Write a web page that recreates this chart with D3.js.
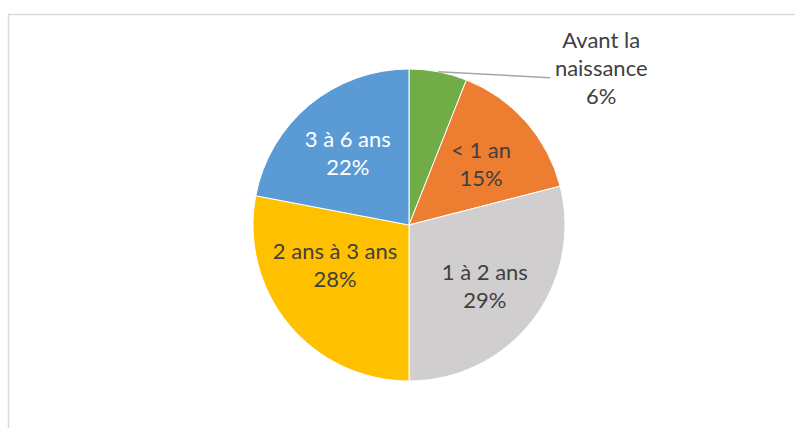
<!DOCTYPE html>
<html>
<head>
<meta charset="utf-8">
<script src="https://cdn.jsdelivr.net/npm/d3@7"></script>
<style>
  body { margin: 0; background: #fff; }
  text { font-family: Lato, "Open Sans", sans-serif; }
</style>
</head>
<body>
<div id="chart"></div>
<script>
// Data
const categories = ["Avant la naissance", "< 1 an", "1 à 2 ans", "2 ans à 3 ans", "3 à 6 ans"];
const shares = [6, 15, 29, 28, 22];
const colors = ["#70ad47", "#ed7d31", "#d0cece", "#ffc000", "#5b9bd5"];
const labelColors = ["#404040", "#404040", "#404040", "#404040", "#ffffff"];

let width = 795;
let height = 428;
let cx = 409, cy = 225, radius = 156;
const fontSize = 22;
const lineGap = 28;
const labelRadius = 96;

let svg = d3
    .select("#chart")
    .append("svg")
    .attr("width", width)
    .attr("height", height);

// Chart area border (only top and left visible)
svg.append("rect")
    .attr("x", 8.5)
    .attr("y", 14.5)
    .attr("width", 800)
    .attr("height", 500)
    .attr("fill", "none")
    .attr("stroke", "#d9d9d9")
    .attr("stroke-width", 1.5);

const data = categories.map((c, i) => ({ name: c, value: shares[i], i: i }));

let pie = d3.pie().sort(null).value((d) => d.value);
let arc = d3.arc().innerRadius(0).outerRadius(radius);

let g = svg.append("g").attr("transform", "translate(" + cx + "," + cy + ")");
let arcs = pie(data);

g.selectAll("path")
    .data(arcs)
    .enter()
    .append("path")
    .attr("d", arc)
    .attr("fill", (d) => colors[d.data.i])
    .attr("stroke", "#fff")
    .attr("stroke-width", 1);

// Inside labels: start near the centroid, then nudge vertically so the box fits
arcs.slice(1).forEach((d) => {
    const mid = (d.startAngle + d.endAngle) / 2;
    const x = Math.sin(mid) * labelRadius;
    let y = -Math.cos(mid) * labelRadius - 4;
    const t = g.append("text")
        .attr("text-anchor", "middle")
        .attr("fill", labelColors[d.data.i])
        .style("font-size", fontSize + "px");
    const l1 = t.append("tspan").attr("x", x).text(d.data.name);
    const l2 = t.append("tspan").attr("x", x).text(d.data.value + "%");
    const w = Math.max(l1.node().getComputedTextLength(), l2.node().getComputedTextLength());
    const fits = (yy) => {
        const top = yy - fontSize * 0.72, bottom = yy + lineGap;
        return [[x - w / 2, top], [x + w / 2, top], [x - w / 2, bottom], [x + w / 2, bottom]]
            .every((p) => Math.hypot(p[0], p[1]) <= radius - 6);
    };
    let n = 0;
    while (!fits(y) && n < 60) {
        y += y > -lineGap / 2 ? -1 : 1;
        n++;
    }
    l1.attr("y", y);
    l2.attr("y", y + lineGap);
});

// Outside label with leader line for the small slice
const first = arcs[0];
const midA = (first.startAngle + first.endAngle) / 2;
const px = Math.sin(midA) * radius;
const py = -Math.cos(midA) * radius;
const ex = px + 112, ey = py + 6;
g.append("line")
    .attr("x1", px).attr("y1", py)
    .attr("x2", ex).attr("y2", ey)
    .attr("stroke", "#a6a6a6")
    .attr("stroke-width", 1.5);
const lx = ex + 51;
const outer = g.append("text")
    .attr("text-anchor", "middle")
    .attr("fill", labelColors[0])
    .style("font-size", fontSize + "px");
["Avant la", "naissance", first.data.value + "%"].forEach((s, k) => {
    outer.append("tspan").attr("x", lx).attr("y", ey - 30 + k * lineGap).text(s);
});
</script>
</body>
</html>
